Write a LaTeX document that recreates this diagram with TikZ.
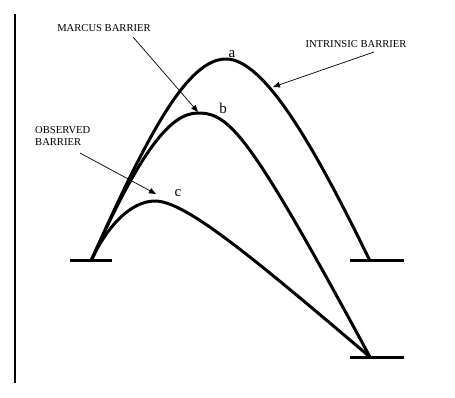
\documentclass[tikz,border=0pt]{standalone}
\usepackage{fontspec}
\setmainfont{Liberation Serif}
\usetikzlibrary{arrows.meta}
\begin{document}
\begin{tikzpicture}[x=1pt,y=-1pt,
  curve/.style={line width=3pt},
  level/.style={line width=3.2pt},
  axisline/.style={line width=2.4pt},
  pointer/.style={line width=0.7pt,-{Triangle[length=7pt,width=5.5pt]}},
  lbl/.style={font=\fontsize{10.6}{12}\selectfont,anchor=base,inner sep=0pt},
  ltr/.style={font=\fontsize{15}{17}\selectfont,anchor=base,inner sep=0pt}]
\useasboundingbox (0,0) rectangle (455,397);
% axis
\coordinate (axtop) at (15,14);
\coordinate (axbot) at (15,383);
\draw[axisline] (axtop) -- (axbot);
% levels
\coordinate (L1) at (70,260.5); \coordinate (L2) at (112,260.5);
\coordinate (U1) at (350,260.5); \coordinate (U2) at (404,260.5);
\coordinate (D1) at (350,357.5); \coordinate (D2) at (404,357.5);
\draw[level] (L1) -- (L2);
\draw[level] (U1) -- (U2);
\draw[level] (D1) -- (D2);
% curve endpoints and peaks
\coordinate (S) at (91,261);
\coordinate (EU) at (370,261);
\coordinate (ED) at (370,357);
\coordinate (pa) at (226,59);
\coordinate (pb) at (198,113);
\coordinate (pc) at (155,201);
% curve a
\draw[curve] (S) .. controls (149,131) and (188,59) .. (pa)
  .. controls (265,59) and (316,150) .. (EU);
% curve b
\draw[curve] (S) .. controls (140.5,151) and (170,113) .. (pb)
  .. controls (230,113) and (250,135) .. (ED);
% curve c
\draw[curve] (S) .. controls (106,228) and (130,201) .. (pc)
  .. controls (185,201) and (250,255) .. (ED);
% letters
\node[ltr] (la) at (232,57) {a};
\node[ltr] (lb) at (223,113) {b};
\node[ltr] (lc) at (178,196) {c};
% labels
\node[lbl] (marcus) at (104,31) {MARCUS BARRIER};
\node[lbl] (intr) at (356,47) {INTRINSIC BARRIER};
\node[lbl,anchor=base west] (obs1) at (35,133) {OBSERVED};
\node[lbl,anchor=base west] (obs2) at (35,145) {BARRIER};
% pointers
\coordinate (m0) at (133,37); \coordinate (m1) at (198,112);
\coordinate (i0) at (374,52); \coordinate (i1) at (273,87);
\coordinate (o0) at (80,153); \coordinate (o1) at (156,194);
\draw[pointer] (m0) -- (m1);
\draw[pointer] (i0) -- (i1);
\draw[pointer] (o0) -- (o1);
\end{tikzpicture}
\end{document}
